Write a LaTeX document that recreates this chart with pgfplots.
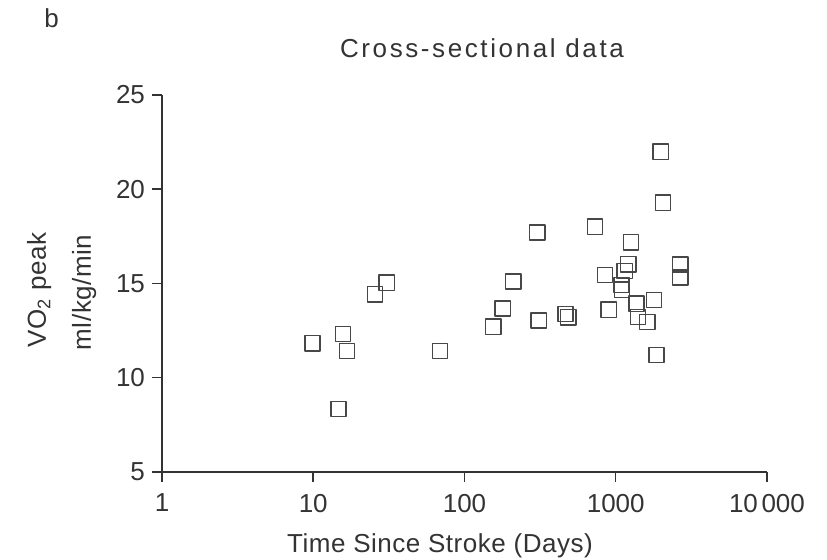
\documentclass[border=0pt]{standalone}
\usepackage{fontspec}
\setmainfont{Liberation Sans}
\usepackage{pgfplots}
\pgfplotsset{compat=1.18}
\definecolor{ink}{HTML}{333333}
\begin{document}
\begin{tikzpicture}
\begin{axis}[
  at={(0,0)}, anchor=south west,
  scale only axis, width=302.5pt, height=188.5pt,
  xmode=log, xmin=1, xmax=10000, ymin=5, ymax=25,
  enlargelimits=false,
  axis lines=left,
  axis line style={-, line width=0.75pt, color=ink},
  xtick={1,10,100,1000,10000},
  xticklabels={1,10,100,1000,10\kern1.8pt000},
  xminorticks=false,
  ytick={5,10,15,20,25},
  tick align=outside,
  major tick length=5pt,
  tick style={line width=0.75pt, color=ink},
  ticklabel style={font=\fontsize{13}{15}\selectfont, text=ink},
  xticklabel style={yshift=-2.5pt},
  /pgf/number format/assume math mode=true,
  clip=false,
]
\addplot[only marks, mark=square, mark size=3.8pt,
  mark options={line width=0.75pt, draw=ink!90, fill=none, line join=round}]
  table[row sep=\\] {
x y\\
9.88 11.83\\
15.7 12.32\\
16.7 11.42\\
14.7 8.34\\
25.6 14.43\\
30.6 15.04\\
68.9 11.42\\
155 12.71\\
179 13.68\\
210 15.10\\
303 17.70\\
310 13.03\\
466 13.38\\
485 13.21\\
731 18.01\\
848 15.45\\
900 13.61\\
1092 14.92\\
1102 14.67\\
1148 15.67\\
1208 16.02\\
1259 17.19\\
1372 13.93\\
1406 13.22\\
1618 12.95\\
1794 14.12\\
1860 11.21\\
1986 21.99\\
2057 19.28\\
2672 16.00\\
2672 15.32\\
};
\end{axis}
\node[anchor=base, inner sep=0, text=ink, font=\fontsize{13}{15}\selectfont\addfontfeatures{LetterSpace=10}] at (160pt,207pt) {Cross-sectional data};
\node[anchor=base west, inner sep=0, text=ink, font=\fontsize{13}{15}\selectfont] at (-59pt,222pt) {b};
\node[anchor=base, inner sep=0, text=ink, font=\fontsize{13}{15}\selectfont\addfontfeatures{LetterSpace=2}] at (139pt,-40.5pt) {Time Since Stroke (Days)};
\node[anchor=base, rotate=90, inner sep=0, text=ink, font=\fontsize{13}{15}\selectfont\addfontfeatures{LetterSpace=2}] at (-58pt,91pt) {VO\textsubscript{2} peak};
\node[anchor=base, rotate=90, inner sep=0, text=ink, font=\fontsize{13}{15}\selectfont\addfontfeatures{LetterSpace=2}] at (-35.5pt,89.75pt) {ml/kg/min};
\pgfresetboundingbox
\path[use as bounding box] (-81pt,-44pt) rectangle (332.5pt,236pt);
\end{tikzpicture}
\end{document}
